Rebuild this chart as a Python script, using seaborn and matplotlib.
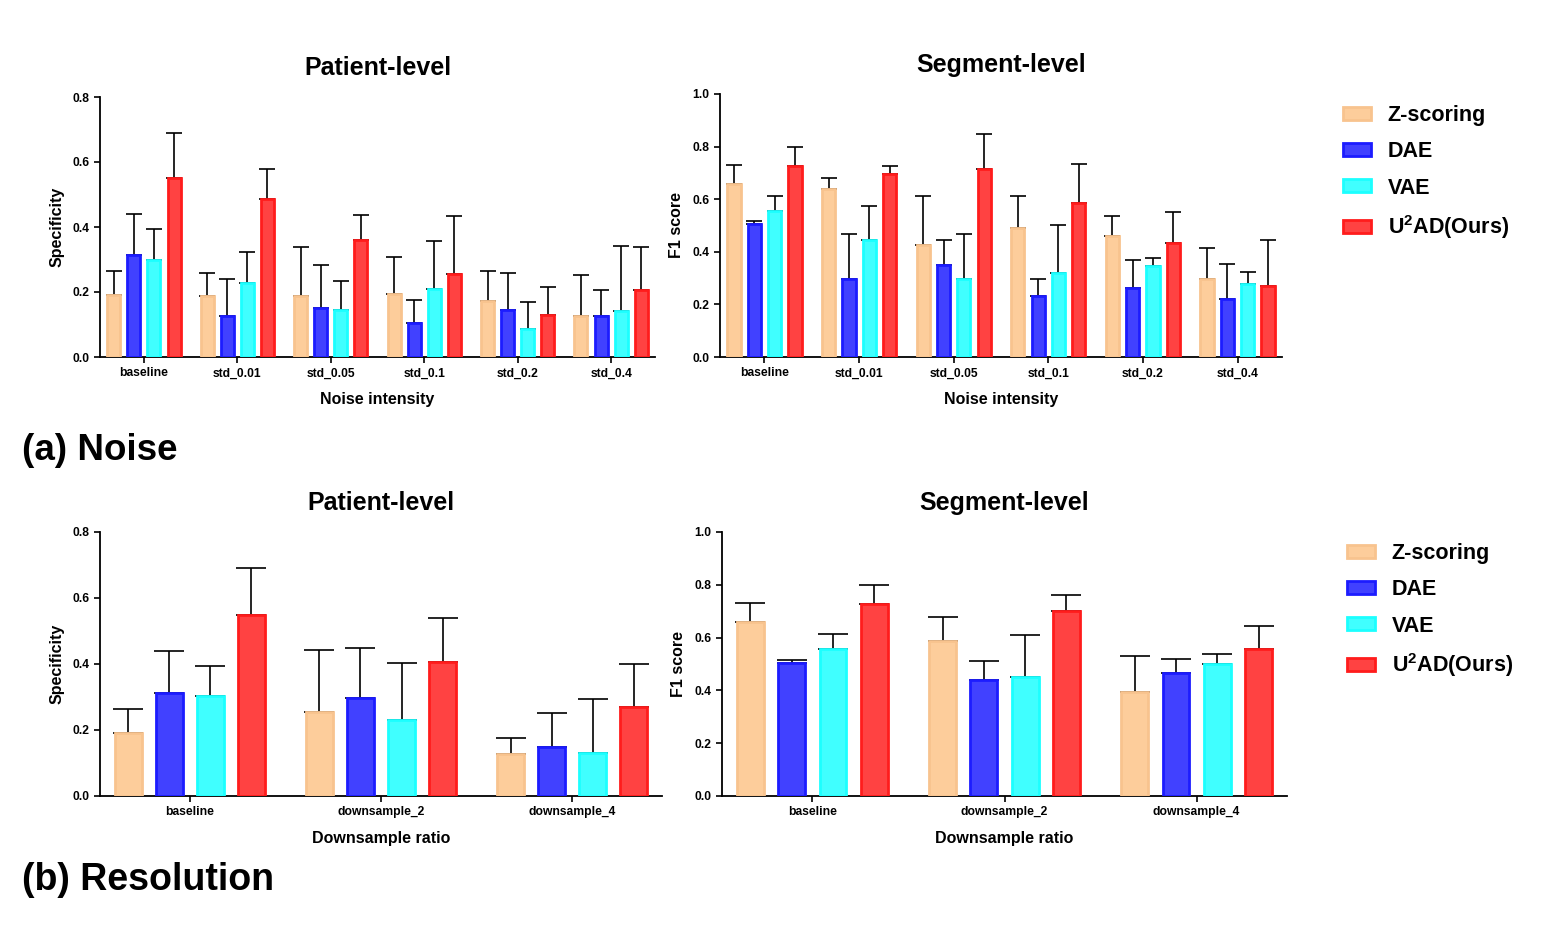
import numpy as np
import pandas as pd
import matplotlib
matplotlib.use('Agg')
import matplotlib.pyplot as plt
import seaborn as sns
from matplotlib.patches import Patch

sns.set_style('ticks')
plt.rcParams['font.family'] = ['Liberation Sans', 'DejaVu Sans']
plt.rcParams['font.weight'] = 'bold'
plt.rcParams['mathtext.fontset'] = 'custom'
plt.rcParams['mathtext.rm'] = 'Liberation Sans:bold'
plt.rcParams['mathtext.bf'] = 'Liberation Sans:bold'
for key in ['text.color', 'axes.labelcolor', 'xtick.color', 'ytick.color', 'axes.edgecolor']:
    plt.rcParams[key] = 'black'

methods = ['Z-scoring', 'DAE', 'VAE', r'U$^{2}$AD(Ours)']
fill_colors = ['#FDCD9B', '#4141FF', '#40FFFF', '#FF4242']
edge_colors = ['#F8C38E', '#1C1CFF', '#1CFFFF', '#FF1C1C']

noise_levels = ['baseline', 'std_0.01', 'std_0.05', 'std_0.1', 'std_0.2', 'std_0.4']
res_levels = ['baseline', 'downsample_2', 'downsample_4']

# (a) Noise -- patient-level specificity: mean and top of error bar
noise_spec_mean = {
    'Z-scoring': [0.190, 0.187, 0.187, 0.195, 0.171, 0.125],
    'DAE':       [0.315, 0.127, 0.150, 0.104, 0.146, 0.125],
    'VAE':       [0.300, 0.228, 0.146, 0.208, 0.086, 0.143],
    'U2AD':      [0.551, 0.486, 0.359, 0.254, 0.128, 0.207],
}
noise_spec_top = {
    'Z-scoring': [0.265, 0.259, 0.340, 0.307, 0.264, 0.253],
    'DAE':       [0.440, 0.239, 0.282, 0.176, 0.260, 0.205],
    'VAE':       [0.395, 0.324, 0.235, 0.357, 0.169, 0.342],
    'U2AD':      [0.690, 0.579, 0.437, 0.434, 0.214, 0.339],
}
# (a) Noise -- segment-level F1
noise_f1_mean = {
    'Z-scoring': [0.659, 0.637, 0.425, 0.492, 0.461, 0.295],
    'DAE':       [0.504, 0.295, 0.351, 0.233, 0.261, 0.220],
    'VAE':       [0.556, 0.443, 0.295, 0.318, 0.346, 0.276],
    'U2AD':      [0.728, 0.696, 0.716, 0.584, 0.432, 0.271],
}
noise_f1_top = {
    'Z-scoring': [0.730, 0.682, 0.613, 0.611, 0.538, 0.415],
    'DAE':       [0.516, 0.468, 0.446, 0.296, 0.370, 0.354],
    'VAE':       [0.613, 0.573, 0.467, 0.503, 0.377, 0.323],
    'U2AD':      [0.799, 0.728, 0.849, 0.733, 0.552, 0.444],
}
# (b) Resolution -- patient-level specificity
res_spec_mean = {
    'Z-scoring': [0.190, 0.255, 0.126],
    'DAE':       [0.313, 0.298, 0.147],
    'VAE':       [0.302, 0.231, 0.129],
    'U2AD':      [0.550, 0.405, 0.269],
}
res_spec_top = {
    'Z-scoring': [0.265, 0.441, 0.176],
    'DAE':       [0.439, 0.449, 0.252],
    'VAE':       [0.394, 0.404, 0.295],
    'U2AD':      [0.690, 0.540, 0.400],
}
# (b) Resolution -- segment-level F1
res_f1_mean = {
    'Z-scoring': [0.660, 0.588, 0.393],
    'DAE':       [0.505, 0.441, 0.465],
    'VAE':       [0.557, 0.449, 0.499],
    'U2AD':      [0.729, 0.700, 0.556],
}
res_f1_top = {
    'Z-scoring': [0.731, 0.678, 0.529],
    'DAE':       [0.516, 0.511, 0.520],
    'VAE':       [0.614, 0.609, 0.539],
    'U2AD':      [0.800, 0.763, 0.643],
}

keys = ['Z-scoring', 'DAE', 'VAE', 'U2AD']


def draw_panel(ax, levels, means, tops, ymax, ylabel, xlabel, title, capsize):
    rows = []
    for k, m in zip(keys, methods):
        for lvl, v in zip(levels, means[k]):
            rows.append({'level': lvl, 'method': m, 'value': v})
    df = pd.DataFrame(rows)
    sns.barplot(data=df, x='level', y='value', hue='method', order=levels,
                hue_order=methods, palette=dict(zip(methods, fill_colors)),
                width=0.86, gap=0.35, errorbar=None, legend=False, ax=ax,
                linewidth=2, saturation=1)
    for cont, k, ec in zip(ax.containers, keys, edge_colors):
        xs = []
        for bar in cont.patches:
            bar.set_edgecolor(ec)
            bar.set_zorder(3)
            xs.append(bar.get_x() + bar.get_width() / 2)
        m = np.array(means[k])
        t = np.array(tops[k])
        ax.errorbar(xs, m, yerr=[np.zeros_like(m), t - m], fmt='none',
                    ecolor='black', elinewidth=1.2, capsize=capsize,
                    capthick=1.2, zorder=2)
    n = len(levels)
    ax.set_xlim(-0.47, n - 1 + 0.47)
    ax.set_ylim(0, ymax)
    ax.set_yticks(np.arange(0, ymax + 0.01, 0.2))
    ax.yaxis.set_major_formatter(matplotlib.ticker.FormatStrFormatter('%.1f'))
    ax.tick_params(labelsize=8.7, width=1.2, length=4, color='black')
    for lab in ax.get_xticklabels() + ax.get_yticklabels():
        lab.set_fontweight('bold')
    ax.set_ylabel(ylabel, fontsize=11.5, fontweight='bold', labelpad=6)
    ax.set_xlabel(xlabel, fontsize=11.5, fontweight='bold', labelpad=9)
    ax.set_title(title, fontsize=18, fontweight='bold', pad=16)
    sns.despine(ax=ax)
    for s in ['left', 'bottom']:
        ax.spines[s].set_linewidth(1.3)
        ax.spines[s].set_color('black')


fig = plt.figure(figsize=(15.55, 9.26), dpi=100)
W, H = 1555, 926


def add_ax(l, r, t, b):
    return fig.add_axes([l / W, 1 - b / H, (r - l) / W, (b - t) / H])


ax_tl = add_ax(100, 655, 97, 357)
ax_tr = add_ax(720, 1282, 94, 357)
ax_bl = add_ax(100, 662, 532, 796)
ax_br = add_ax(722, 1287, 532, 796)

draw_panel(ax_tl, noise_levels, noise_spec_mean, noise_spec_top, 0.8,
           'Specificity', 'Noise intensity', 'Patient-level', 6)
draw_panel(ax_tr, noise_levels, noise_f1_mean, noise_f1_top, 1.0,
           'F1 score', 'Noise intensity', 'Segment-level', 6)
draw_panel(ax_bl, res_levels, res_spec_mean, res_spec_top, 0.8,
           'Specificity', 'Downsample ratio', 'Patient-level', 11)
draw_panel(ax_br, res_levels, res_f1_mean, res_f1_top, 1.0,
           'F1 score', 'Downsample ratio', 'Segment-level', 11)

handles = [Patch(facecolor=fc, edgecolor=ec, linewidth=2)
           for fc, ec in zip(fill_colors, edge_colors)]
for x, y in [(1324, 86), (1328, 524)]:
    fig.legend(handles, methods, loc='upper left',
               bbox_to_anchor=(x / W, 1 - y / H), frameon=False,
               prop={'size': 15.5, 'weight': 'bold'}, handlelength=1.3,
               handleheight=0.55, labelspacing=0.7, handletextpad=0.75)

fig.text(22 / W, 1 - 450 / H, '(a) Noise', fontsize=26.5, fontweight='bold',
         va='center', ha='left')
fig.text(22 / W, 1 - 880 / H, '(b) Resolution', fontsize=27, fontweight='bold',
         va='center', ha='left')

fig.savefig('out.png', dpi=100, facecolor='white')
